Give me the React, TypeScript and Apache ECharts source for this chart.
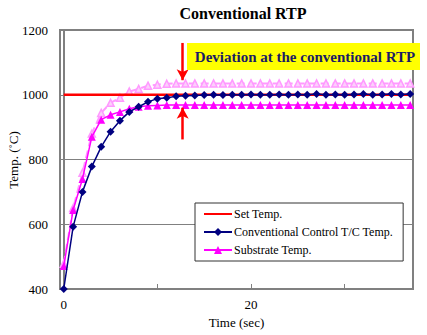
import React, { useEffect, useRef } from "react";
import * as echarts from "echarts";

const times = Array.from({ length: 38 }, (_, i) => i);
const setTemp = [1000, 1000, 1000, 1000, 1000, 1000, 1000, 1000, 1000, 1000, 1000, 1000, 1000, 1000, 1000, 1000, 1000, 1000, 1000, 1000, 1000, 1000, 1000, 1000, 1000, 1000, 1000, 1000, 1000, 1000, 1000, 1000, 1000, 1000, 1000, 1000, 1000, 1000];
const tcTemp = [400, 592, 700, 778, 839, 886, 920, 947, 963, 978, 988, 991, 995, 997, 998, 999, 1000, 999, 1000, 1000, 1001, 1000, 1000, 1001, 1000, 1001, 1000, 1002, 1000, 1001, 1000, 1001, 1002, 1000, 1001, 1002, 1001, 1002];
const substrateTemp = [471, 644, 740, 870, 923, 938, 947, 957, 963, 966, 967, 968, 968, 968, 968, 968, 968, 968, 968, 968, 968, 968, 968, 968, 968, 968, 968, 968, 968, 968, 968, 968, 968, 968, 968, 968, 968, 968];
const substrateUpper = [478, 650, 759, 880, 944, 975, 991, 1010, 1018, 1028, 1031, 1034, 1035, 1035, 1035, 1035, 1035, 1035, 1035, 1035, 1035, 1035, 1035, 1035, 1035, 1035, 1035, 1035, 1035, 1035, 1035, 1035, 1035, 1035, 1035, 1035, 1035, 1035];
const xTickValues = [0, 10, 20, 30];
const xLabelValues = [0, 20];
const arrowX = 12.7;

const FONT = "Times New Roman";

export default function App() {
  const ref = useRef<HTMLDivElement>(null);
  useEffect(() => {
    if (!ref.current) return;
    const chart = echarts.init(ref.current, null, { renderer: "svg" });
    const pair = (ys: number[]) => times.map((t, i) => [t, ys[i]]);
    chart.setOption({
      animation: false,
      backgroundColor: "#fff",
      textStyle: { fontFamily: FONT },
      title: {
        text: "Conventional RTP",
        left: 238,
        top: 0,
        textAlign: "center",
        textStyle: { fontFamily: FONT, fontSize: 16, fontWeight: "bold", color: "#000" },
      },
      grid: {
        left: 60,
        top: 30,
        right: 14,
        bottom: 46,
        containLabel: false,
        outerBoundsMode: "none",
        show: true,
        borderColor: "#808080",
        borderWidth: 2,
        backgroundColor: "transparent",
      },
      legend: {
        orient: "vertical",
        left: 195,
        top: 203,
        data: [
          { name: "Set Temp.", itemStyle: { opacity: 0 } },
          "Conventional Control T/C Temp.",
          "Substrate Temp.",
        ],
        backgroundColor: "#fff",
        borderColor: "#333",
        borderWidth: 1,
        borderRadius: 0,
        padding: [5, 10, 5, 8],
        itemGap: 6,
        itemWidth: 28,
        itemHeight: 10,
        textStyle: { fontFamily: FONT, fontSize: 12, color: "#000", padding: [0, 0, 0, -3] },
      },
      xAxis: {
        type: "value",
        min: () => -0.4,
        max: () => 37.3,
        name: "Time (sec)",
        nameLocation: "middle",
        nameGap: 26,
        nameTextStyle: { fontFamily: FONT, fontSize: 13, color: "#000" },
        axisLine: { show: true, lineStyle: { color: "#808080", width: 2 } },
        axisTick: { show: true, inside: true, length: 5, customValues: xTickValues, lineStyle: { color: "#808080" } },
        axisLabel: { customValues: xLabelValues, fontFamily: FONT, fontSize: 13, color: "#000", margin: 9 },
        splitLine: { show: false },
      },
      yAxis: {
        type: "value",
        min: 400,
        max: 1200,
        interval: 200,
        axisLine: { show: true, lineStyle: { color: "#808080", width: 2 } },
        axisTick: { show: false },
        axisLabel: { fontFamily: FONT, fontSize: 13, color: "#000", margin: 12, formatter: (v: number) => String(v) },
        splitLine: { show: true, lineStyle: { color: "#808080", width: 1 } },
      },
      series: [
        {
          name: "Substrate Upper",
          type: "line",
          data: pair(substrateUpper),
          symbol: "triangle",
          symbolSize: 7,
          lineStyle: { color: "#ff99ff", width: 2, type: "dashed" },
          itemStyle: { color: "#fbd0fb", borderColor: "#ff99ff", borderWidth: 1.5 },
          z: 2,
        },
        {
          name: "Substrate Temp.",
          type: "line",
          data: pair(substrateTemp),
          symbol: "triangle",
          symbolSize: 8,
          lineStyle: { color: "#ff00ff", width: 1.5 },
          itemStyle: { color: "#ff00ff" },
          z: 3,
        },
        {
          name: "Set Temp.",
          type: "line",
          data: pair(setTemp),
          symbol: "none",
          lineStyle: { color: "#ff0000", width: 2.5 },
          itemStyle: { color: "#ff0000" },
          z: 4,
          markLine: {
            silent: true,
            symbol: ["none", "arrow"],
            symbolSize: [9, 11],
            label: { show: false },
            lineStyle: { color: "#ff0000", width: 2.5, type: "solid" },
            data: [
              [{ coord: [arrowX, 1160] }, { coord: [arrowX, 1045] }],
              [{ coord: [arrowX, 862] }, { coord: [arrowX, 960] }],
            ],
          },
        },
        {
          name: "Conventional Control T/C Temp.",
          type: "line",
          data: pair(tcTemp),
          symbol: "diamond",
          symbolSize: 8,
          lineStyle: { color: "#000080", width: 1.5 },
          itemStyle: { color: "#000080" },
          z: 5,
        },
      ],
      graphic: [
        {
          type: "text",
          x: 13,
          y: 160,
          rotation: Math.PI / 2,
          style: {
            text: "Temp. (˚C)",
            fontFamily: FONT,
            fontSize: 13,
            fill: "#000",
            align: "center",
            verticalAlign: "middle",
          },
        },
        {
          type: "rect",
          shape: { x: 187, y: 43, width: 233, height: 27 },
          style: { fill: "#ffff00" },
          z: 100,
        },
        {
          type: "text",
          x: 305,
          y: 57,
          style: {
            text: "Deviation at the conventional RTP",
            fontFamily: FONT,
            fontSize: 15,
            fontWeight: "bold",
            fill: "#1a1a66",
            align: "center",
            verticalAlign: "middle",
          },
          z: 101,
        },
      ],
    });
    return () => chart.dispose();
  }, []);
  return <div ref={ref} style={{ position: "fixed", left: 0, top: 0, width: 427, height: 335 }} />;
}
